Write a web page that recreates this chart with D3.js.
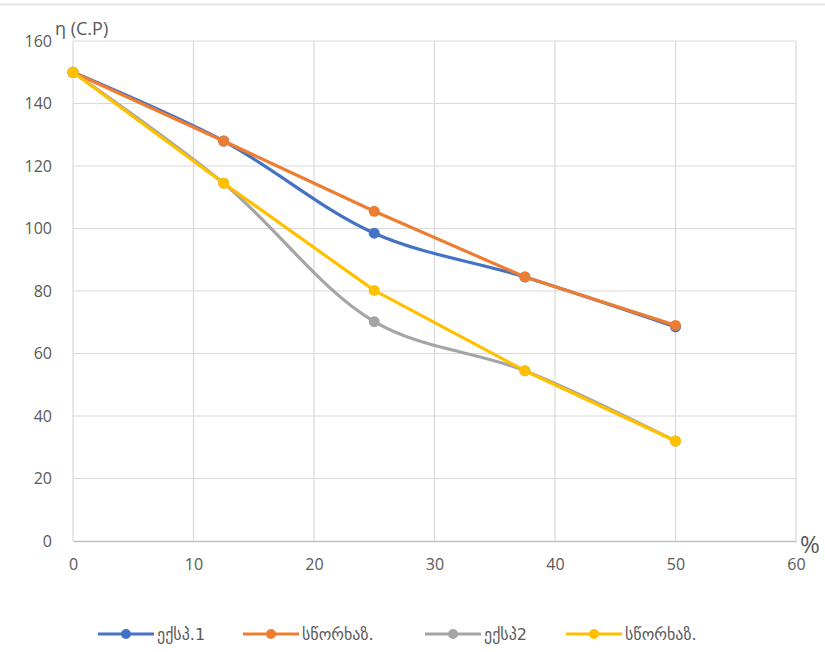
<!DOCTYPE html>
<html>
<head>
<meta charset="utf-8">
<script src="https://cdn.jsdelivr.net/npm/d3@7"></script>
<style>
  html, body { margin: 0; padding: 0; background: #fff; }
  svg { display: block; }
  text { font-family: "Open Sans", "DejaVu Sans", sans-serif; fill: #595959; }
</style>
</head>
<body>
<svg id="chart" width="825" height="652"></svg>
<script>
// Concentration (%) on the x axis
const xValues = [0, 12.5, 25, 37.5, 50];

// Series values, η (C.P)
const exp1 = [150, 128, 98.5, 84.5, 68.5];
const fit1 = [150, 128, 105.5, 84.5, 69];
const exp2 = [150, 114.5, 70.2, 54.5, 32];
const fit2 = [150, 114.5, 80.2, 54.5, 32];

const seriesNames = ["ექსპ.1", "სწორხაზ.", "ექსპ2", "სწორხაზ."];
const seriesColors = ["#4472C4", "#ED7D31", "#A5A5A5", "#FFC000"];
const seriesSmooth = [true, false, true, false];

const xTicks = [0, 10, 20, 30, 40, 50, 60];
const yTicks = [0, 20, 40, 60, 80, 100, 120, 140, 160];

const svg = d3.select("#chart");
const margin = { left: 73, right: 29, top: 41, bottom: 111 };
const W = 825, H = 652;

const x = d3.scaleLinear().domain([0, 60]).range([margin.left, W - margin.right]);
const y = d3.scaleLinear().domain([0, 160]).range([H - margin.bottom, margin.top]);

// thin frame line at the top
svg.append("line")
  .attr("x1", 0).attr("x2", W).attr("y1", 4.5).attr("y2", 4.5)
  .attr("stroke", "#e4e4e4").attr("stroke-width", 2);

// gridlines
const grid = svg.append("g");
grid.selectAll("line.h").data(yTicks.filter(d => d > 0)).join("line")
  .attr("x1", x(0)).attr("x2", x(60))
  .attr("y1", d => y(d)).attr("y2", d => y(d))
  .attr("stroke", "#d9d9d9").attr("stroke-width", 1.2);
grid.selectAll("line.v").data(xTicks).join("line")
  .attr("y1", y(0)).attr("y2", y(160))
  .attr("x1", d => x(d)).attr("x2", d => x(d))
  .attr("stroke", "#d9d9d9").attr("stroke-width", 1.2);

// x axis
const xAxis = svg.append("g")
  .attr("transform", `translate(0,${y(0)})`)
  .call(d3.axisBottom(x).tickValues(xTicks).tickSize(0).tickPadding(18));
xAxis.select(".domain").attr("stroke", "#bfbfbf").attr("stroke-width", 1.4);
xAxis.selectAll("text").style("font-size", "16px").attr("fill", "#595959");

// y axis
const yAxis = svg.append("g")
  .attr("transform", `translate(${x(0)},0)`)
  .call(d3.axisLeft(y).tickValues(yTicks).tickSize(0).tickPadding(21));
yAxis.select(".domain").remove();
yAxis.selectAll("text").style("font-size", "16px").attr("fill", "#595959");

// axis titles
svg.append("text").attr("x", 55).attr("y", 35)
  .style("font-size", "18px").text("η (C.P)");
svg.append("text").attr("x", 800).attr("y", 553)
  .style("font-size", "24px").text("%");

// series
const allSeries = [exp1, fit1, exp2, fit2];
const plot = svg.append("g");
allSeries.forEach((vals, i) => {
  const pts = vals.map((v, j) => [xValues[j], v]);
  const line = d3.line()
    .x(d => x(d[0])).y(d => y(d[1]))
    .curve(seriesSmooth[i] ? d3.curveCatmullRom.alpha(0.5) : d3.curveLinear);
  plot.append("path").datum(pts)
    .attr("d", line).attr("fill", "none")
    .attr("stroke", seriesColors[i]).attr("stroke-width", 3.2)
    .attr("stroke-linejoin", "round").attr("stroke-linecap", "round");
  plot.selectAll(null).data(pts).join("circle")
    .attr("cx", d => x(d[0])).attr("cy", d => y(d[1]))
    .attr("r", 5.5).attr("fill", seriesColors[i]);
});

// legend
const legendX = [98, 243, 425, 566];
const legendY = 634;
const legend = svg.append("g");
seriesNames.forEach((name, i) => {
  const g = legend.append("g").attr("transform", `translate(${legendX[i]},${legendY})`);
  g.append("line").attr("x1", 0).attr("x2", 56).attr("y1", 0).attr("y2", 0)
    .attr("stroke", seriesColors[i]).attr("stroke-width", 3);
  g.append("circle").attr("cx", 28).attr("cy", 0).attr("r", 5).attr("fill", seriesColors[i]);
  g.append("text").attr("x", 59).attr("y", 6)
    .style("font-size", "16px").style("font-family", "'DejaVu Sans', sans-serif")
    .text(name);
});
</script>
</body>
</html>
